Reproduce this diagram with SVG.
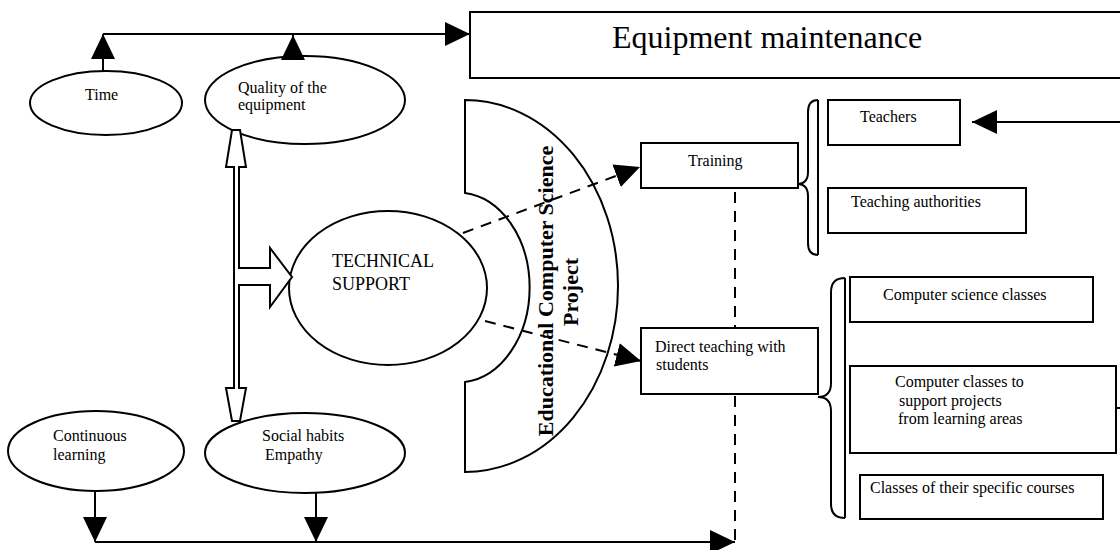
<svg xmlns="http://www.w3.org/2000/svg" width="1120" height="550" viewBox="0 0 1120 550">
<defs>
<marker id="ah" markerUnits="userSpaceOnUse" markerWidth="26" markerHeight="26" refX="25" refY="12" orient="auto">
<path d="M0,0 L25,12 L0,24 Z" fill="#000"/>
</marker>
<style>
.t{font-family:"Liberation Serif","Times New Roman",serif;font-size:16px;fill:#000}
.s{fill:#fff;stroke:#000;stroke-width:2}
.ln{fill:none;stroke:#000;stroke-width:2}
.da{fill:none;stroke:#000;stroke-width:2;stroke-dasharray:11,8}
</style>
</defs>
<rect width="1120" height="550" fill="#fff"/>

<g id="equipment">
<rect class="s" x="470" y="12" width="660" height="66"/>
<text class="t" x="612" y="48" style="font-size:32px">Equipment maintenance</text>
</g>

<g id="time">
<ellipse class="s" cx="106" cy="103" rx="76" ry="32"/>
<text class="t" x="85" y="100">Time</text>
</g>

<g id="quality">
<ellipse class="s" cx="305" cy="100" rx="100" ry="44"/>
<text class="t" x="238" y="93">Quality of the</text>
<text class="t" x="238" y="110">equipment</text>
</g>

<g id="technical-support">
<ellipse class="s" cx="388" cy="288" rx="99" ry="77"/>
<text class="t" x="332" y="267" style="font-size:18px">TECHNICAL</text>
<text class="t" x="332" y="290" style="font-size:18px">SUPPORT</text>
</g>

<g id="project">
<path class="s" d="M465,100 A153,186 0 0 1 465,472 L465,382 A72,95 0 0 0 465,193 Z"/>
<text class="t" transform="translate(553,291) rotate(-90)" text-anchor="middle" style="font-size:22px;font-weight:bold">Educational Computer Science</text>
<text class="t" transform="translate(578,292) rotate(-90)" text-anchor="middle" style="font-size:22px;font-weight:bold">Project</text>
</g>

<g id="training">
<rect class="s" x="641" y="143" width="157" height="45"/>
<text class="t" x="688" y="166">Training</text>
</g>

<g id="direct-teaching">
<rect class="s" x="641" y="328" width="177" height="66"/>
<text class="t" x="655" y="352">Direct teaching with</text>
<text class="t" x="656" y="370">students</text>
</g>

<g id="teachers">
<rect class="s" x="828" y="100" width="132" height="45"/>
<text class="t" x="860" y="122">Teachers</text>
</g>

<g id="teaching-authorities">
<rect class="s" x="828" y="188" width="198" height="45"/>
<text class="t" x="851" y="207">Teaching authorities</text>
</g>

<g id="cs-classes">
<rect class="s" x="850" y="277" width="243" height="45"/>
<text class="t" x="883" y="300">Computer science classes</text>
</g>

<g id="computer-classes-projects">
<rect class="s" x="850" y="366" width="266" height="87"/>
<text class="t" x="895" y="387">Computer classes to</text>
<text class="t" x="899" y="406">support projects</text>
<text class="t" x="898" y="424">from learning areas</text>
</g>

<g id="specific-courses">
<rect class="s" x="860" y="475" width="243" height="44"/>
<text class="t" x="870" y="493">Classes of their specific courses</text>
</g>

<g id="continuous-learning">
<ellipse class="s" cx="96" cy="451" rx="88" ry="40"/>
<text class="t" x="53" y="441">Continuous</text>
<text class="t" x="53" y="460">learning</text>
</g>

<g id="social-habits">
<ellipse class="s" cx="305" cy="453" rx="100" ry="40"/>
<text class="t" x="262" y="441">Social habits</text>
<text class="t" x="265" y="460">Empathy</text>
</g>

<g id="connectors">
<line class="ln" x1="103" y1="34" x2="470" y2="34" marker-end="url(#ah)"/>
<line class="ln" x1="103" y1="71" x2="103" y2="34" marker-end="url(#ah)"/>
<line class="ln" x1="293" y1="56" x2="293" y2="35" marker-end="url(#ah)"/>
<line class="ln" x1="95" y1="542" x2="735" y2="542" marker-end="url(#ah)"/>
<line class="ln" x1="95" y1="491" x2="95" y2="542" marker-end="url(#ah)"/>
<line class="ln" x1="316" y1="493" x2="316" y2="542" marker-end="url(#ah)"/>
<line class="ln" x1="1120" y1="122" x2="972" y2="122" marker-end="url(#ah)"/>
<line class="da" x1="463" y1="233" x2="640" y2="167" marker-end="url(#ah)"/>
<line class="da" x1="485" y1="321" x2="641" y2="361" marker-end="url(#ah)"/>
<line class="da" x1="735" y1="192" x2="735" y2="327"/>
<line class="da" x1="735" y1="396" x2="735" y2="540"/>
<path class="s" stroke-width="1.6" d="M232,130 L240,130 L246,167 L239,167 L239,268 L270,268 L270,248 L292,277 L270,307 L270,285 L239,285 L239,388 L246,388 L240,421 L232,421 L226,388 L234,388 L234,167 L226,167 Z"/>
<path class="ln" d="M818,100 Q808,100 808,112 L808,172 Q808,184 797,184 Q808,184 808,196 L808,243 Q808,255 818,255 M818,100 L818,255"/>
<path class="ln" d="M845,278 Q831,278 831,292 L831,383 Q831,397 818,397 Q831,397 831,411 L831,504 Q831,518 845,518 M845,278 L845,518"/>
<line class="ln" x1="1116" y1="408" x2="1120" y2="408"/>
</g>
</svg>
